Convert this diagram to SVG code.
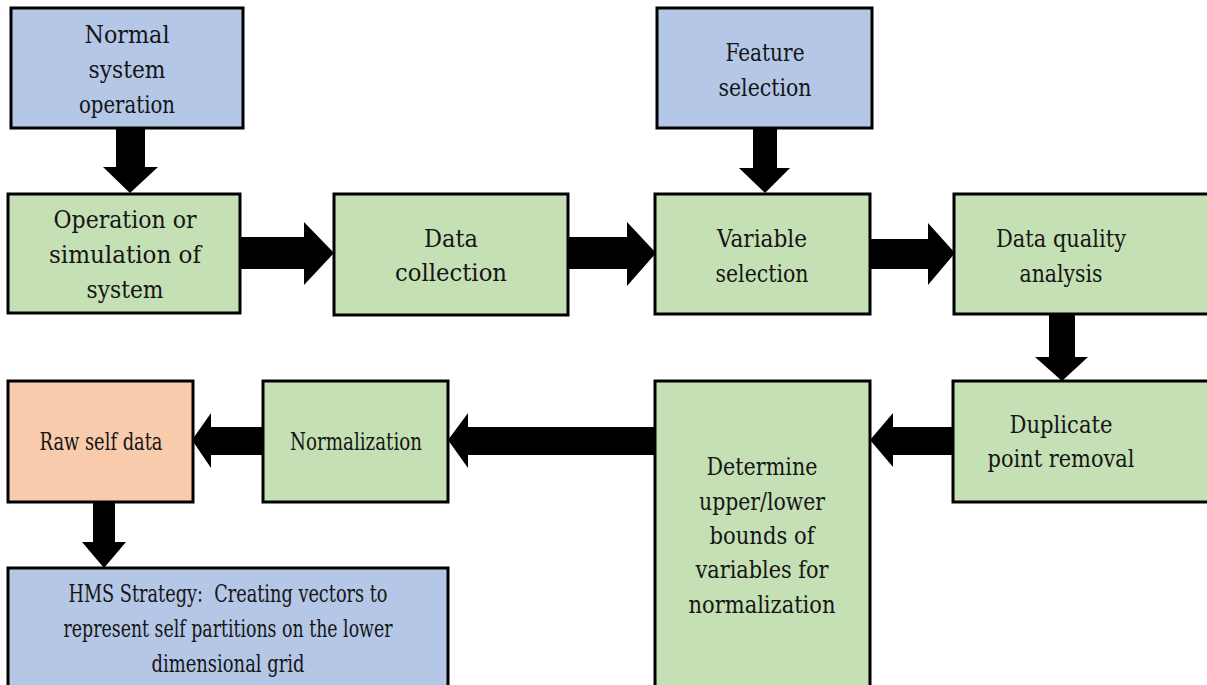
<svg xmlns="http://www.w3.org/2000/svg" width="1207" height="685" viewBox="0 0 1207 685">
  <style>
    .box { stroke: #000; stroke-width: 3; }
    .blue { fill: #B4C7E7; }
    .green { fill: #C5E0B4; }
    .orange { fill: #F8CBAD; }
    text { font-family: "DejaVu Serif Condensed", "DejaVu Serif", serif; font-stretch: condensed; font-size: 24px; fill: #151515; text-anchor: middle; }
    .arrow { fill: #000; }
  </style>
  <rect width="1207" height="685" fill="#fff"/>

  <g id="connectors">
    <polygon class="arrow" points="116,128 145,128 145,167 158,167 130,193 103,167 116,167"/>
    <polygon class="arrow" points="240,237 304,237 304,222 334,253 304,285 304,269 240,269"/>
    <polygon class="arrow" points="568,237 627,237 627,222 656,253 627,286 627,269 568,269"/>
    <polygon class="arrow" points="753,128 777,128 777,168 790,168 765,193 739,168 753,168"/>
    <polygon class="arrow" points="870,239 928,239 928,223 955,253 928,285 928,269 870,269"/>
    <polygon class="arrow" points="1049,314 1075,314 1075,357 1088,357 1062,381 1035,357 1049,357"/>
    <polygon class="arrow" points="953,427 893,427 893,413 870,440 893,467 893,455 953,455"/>
    <polygon class="arrow" points="655,427 468,427 468,413 448,440 468,468 468,455 655,455"/>
    <polygon class="arrow" points="263,427 211,427 211,413 192,440 211,468 211,455 263,455"/>
    <polygon class="arrow" points="93,502 115,502 115,542 126,542 104,568 82,542 93,542"/>
  </g>

  <g id="normal-system-operation">
    <rect class="box blue" x="11" y="8" width="232" height="120"/>
    <text x="127" y="43" textLength="85" lengthAdjust="spacingAndGlyphs">Normal</text>
    <text x="127" y="78" textLength="77" lengthAdjust="spacingAndGlyphs">system</text>
    <text x="127" y="113" textLength="96" lengthAdjust="spacingAndGlyphs">operation</text>
  </g>

  <g id="operation-simulation">
    <rect class="box green" x="8" y="194" width="232" height="119"/>
    <text x="125" y="228" textLength="143" lengthAdjust="spacingAndGlyphs">Operation or</text>
    <text x="125" y="263" textLength="152" lengthAdjust="spacingAndGlyphs">simulation of</text>
    <text x="125" y="298" textLength="77" lengthAdjust="spacingAndGlyphs">system</text>
  </g>

  <g id="data-collection">
    <rect class="box green" x="334" y="194" width="234" height="121"/>
    <text x="451" y="247" textLength="54" lengthAdjust="spacingAndGlyphs">Data</text>
    <text x="451" y="281" textLength="112" lengthAdjust="spacingAndGlyphs">collection</text>
  </g>

  <g id="feature-selection">
    <rect class="box blue" x="657" y="8" width="215" height="120"/>
    <text x="765" y="61" textLength="79" lengthAdjust="spacingAndGlyphs">Feature</text>
    <text x="765" y="96" textLength="93" lengthAdjust="spacingAndGlyphs">selection</text>
  </g>

  <g id="variable-selection">
    <rect class="box green" x="655" y="194" width="215" height="120"/>
    <text x="762" y="247" textLength="90" lengthAdjust="spacingAndGlyphs">Variable</text>
    <text x="762" y="282" textLength="93" lengthAdjust="spacingAndGlyphs">selection</text>
  </g>

  <g id="data-quality-analysis">
    <rect class="box green" x="954" y="194" width="280" height="120"/>
    <text x="1061" y="247" textLength="130" lengthAdjust="spacingAndGlyphs">Data quality</text>
    <text x="1061" y="282" textLength="83" lengthAdjust="spacingAndGlyphs">analysis</text>
  </g>

  <g id="duplicate-point-removal">
    <rect class="box green" x="953" y="381" width="280" height="121"/>
    <text x="1061" y="433" textLength="103" lengthAdjust="spacingAndGlyphs">Duplicate</text>
    <text x="1061" y="467" textLength="147" lengthAdjust="spacingAndGlyphs">point removal</text>
  </g>

  <g id="determine-bounds">
    <rect class="box green" x="655" y="381" width="215" height="330"/>
    <text x="762" y="475" textLength="111" lengthAdjust="spacingAndGlyphs">Determine</text>
    <text x="762" y="510" textLength="126" lengthAdjust="spacingAndGlyphs">upper/lower</text>
    <text x="762" y="544" textLength="105" lengthAdjust="spacingAndGlyphs">bounds of</text>
    <text x="762" y="578" textLength="133" lengthAdjust="spacingAndGlyphs">variables for</text>
    <text x="762" y="613" textLength="147" lengthAdjust="spacingAndGlyphs">normalization</text>
  </g>

  <g id="normalization">
    <rect class="box green" x="263" y="381" width="185" height="121"/>
    <text x="356" y="450" textLength="132" lengthAdjust="spacingAndGlyphs">Normalization</text>
  </g>

  <g id="raw-self-data">
    <rect class="box orange" x="8" y="381" width="185" height="121"/>
    <text x="101" y="450" textLength="123" lengthAdjust="spacingAndGlyphs">Raw self data</text>
  </g>

  <g id="hms-strategy">
    <rect class="box blue" x="8" y="568" width="440" height="130"/>
    <text x="228" y="602" xml:space="preserve" textLength="319" lengthAdjust="spacingAndGlyphs">HMS Strategy:  Creating vectors to</text>
    <text x="228" y="637" textLength="329" lengthAdjust="spacingAndGlyphs">represent self partitions on the lower</text>
    <text x="228" y="672" textLength="153" lengthAdjust="spacingAndGlyphs">dimensional grid</text>
  </g>
</svg>
